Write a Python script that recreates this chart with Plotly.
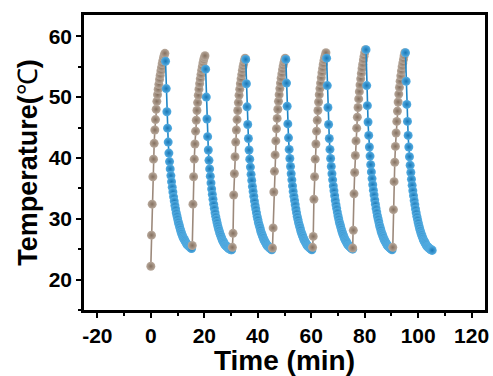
import plotly.graph_objects as go

# ---- data ----
sample_interval_min = 0.25

heat_start = [0.0, 15.5, 30.5, 45.5, 60.5, 75.5, 90.5]
heat_c1 = [22.2, 27.3, 32.4, 36.9, 39.8, 42.4, 44.6, 46.3, 48.0, 49.3, 50.4, 51.3, 52.1, 52.9, 53.6, 54.3, 54.9, 55.5, 56.0, 56.5, 56.9, 57.2]
heat_c2 = [25.6, 32.4, 36.9, 39.8, 42.3, 44.4, 46.2, 47.8, 49.1, 50.3, 51.3, 52.2, 53.0, 53.7, 54.4, 55.0, 55.6, 56.1, 56.5, 56.8]
heat_c3 = [25.3, 27.6, 33.9, 37.4, 40.2, 42.6, 44.6, 46.3, 47.8, 49.1, 50.3, 51.3, 52.2, 53.0, 53.7, 54.4, 55.0, 55.5, 56.0, 56.4]
heat_c4 = [25.2, 28.5, 34.4, 37.8, 40.5, 42.8, 44.8, 46.5, 48.0, 49.3, 50.4, 51.4, 52.3, 53.1, 53.8, 54.5, 55.1, 55.6, 56.0, 56.4]
heat_c5 = [25.3, 27.1, 33.2, 36.9, 39.8, 42.3, 44.4, 46.2, 47.8, 49.2, 50.4, 51.4, 52.3, 53.2, 54.0, 54.7, 55.4, 56.0, 56.5, 56.9, 57.3]
heat_c6 = [25.2, 28.1, 34.1, 37.6, 40.4, 42.8, 44.9, 46.7, 48.3, 49.7, 50.9, 52.0, 53.0, 53.9, 54.7, 55.4, 56.1, 56.7, 57.3, 57.8]
heat_c7 = [25.3, 31.5, 36.1, 39.3, 41.9, 44.1, 46.0, 47.7, 49.2, 50.5, 51.6, 52.6, 53.5, 54.3, 55.0, 55.6, 56.2, 56.8, 57.3]

cool_start = [5.5, 20.5, 35.5, 50.5, 65.75, 80.5, 95.25]
cool_c1 = [55.9, 51.4, 47.6, 44.9, 42.6, 40.8, 39.4, 38.2, 37.1, 36.1, 35.2, 34.4, 33.6, 32.9, 32.2, 31.6, 31.0, 30.5, 30.0, 29.5, 29.1, 28.7, 28.3, 27.9, 27.6, 27.3, 27.0, 26.8, 26.6, 26.4, 26.2, 26.0, 25.8, 25.7, 25.6, 25.5, 25.4, 25.3, 25.2, 25.1]
cool_c2 = [54.6, 50.0, 46.4, 43.5, 41.3, 39.6, 38.2, 37.0, 35.9, 34.9, 34.0, 33.2, 32.4, 31.7, 31.0, 30.4, 29.9, 29.4, 28.9, 28.5, 28.1, 27.7, 27.4, 27.1, 26.8, 26.5, 26.3, 26.1, 25.9, 25.7, 25.6, 25.5, 25.4, 25.3, 25.2, 25.1, 25.0, 25.0, 24.9, 24.9]
cool_c3 = [56.2, 52.2, 48.4, 45.5, 43.2, 41.3, 39.8, 38.5, 37.3, 36.3, 35.3, 34.5, 33.7, 32.9, 32.2, 31.6, 31.0, 30.4, 29.9, 29.4, 29.0, 28.6, 28.2, 27.8, 27.5, 27.2, 26.9, 26.6, 26.4, 26.2, 26.0, 25.8, 25.6, 25.5, 25.4, 25.3, 25.2, 25.1, 25.0, 24.9]
cool_c4 = [56.2, 52.3, 48.5, 45.6, 43.3, 41.4, 39.9, 38.6, 37.4, 36.4, 35.4, 34.5, 33.7, 33.0, 32.3, 31.6, 31.0, 30.4, 29.9, 29.4, 29.0, 28.6, 28.2, 27.8, 27.5, 27.2, 26.9, 26.6, 26.4, 26.2, 26.0, 25.8, 25.6, 25.5, 25.4, 25.3, 25.2, 25.1, 25.0, 24.9]
cool_c5 = [56.4, 51.9, 48.3, 45.5, 43.2, 41.4, 39.9, 38.6, 37.4, 36.4, 35.4, 34.6, 33.8, 33.0, 32.3, 31.7, 31.1, 30.5, 30.0, 29.5, 29.1, 28.7, 28.3, 27.9, 27.6, 27.3, 27.0, 26.7, 26.5, 26.3, 26.1, 25.9, 25.7, 25.6, 25.5, 25.4, 25.3, 25.2, 25.1, 25.0]
cool_c6 = [57.8, 51.9, 48.6, 45.9, 43.7, 41.8, 40.3, 38.9, 37.7, 36.6, 35.6, 34.7, 33.9, 33.1, 32.4, 31.7, 31.1, 30.5, 30.0, 29.5, 29.0, 28.6, 28.2, 27.8, 27.5, 27.2, 26.9, 26.6, 26.4, 26.2, 26.0, 25.8, 25.6, 25.5, 25.4, 25.3, 25.2, 25.1, 25.0, 24.9]
cool_c7 = [57.3, 52.6, 48.8, 46.0, 43.7, 41.8, 40.2, 38.8, 37.6, 36.5, 35.5, 34.6, 33.8, 33.0, 32.3, 31.6, 31.0, 30.4, 29.9, 29.4, 28.9, 28.5, 28.1, 27.7, 27.4, 27.1, 26.8, 26.5, 26.3, 26.1, 25.9, 25.7, 25.5, 25.4, 25.3, 25.2, 25.1, 25.0, 24.9, 24.9, 24.8]

heat_cycles = [heat_c1, heat_c2, heat_c3, heat_c4, heat_c5, heat_c6, heat_c7]
cool_cycles = [cool_c1, cool_c2, cool_c3, cool_c4, cool_c5, cool_c6, cool_c7]

x_ticks = [-20, 0, 20, 40, 60, 80, 100, 120]
y_ticks = [20, 30, 40, 50, 60]

BROWN_LINE = "#9c897b"
BLUE_LINE = "#1f86c6"

fig = go.Figure()

for i in range(len(heat_cycles)):
    h = heat_cycles[i]
    c = cool_cycles[i]
    th = [heat_start[i] + k * sample_interval_min for k in range(len(h))]
    tc = [cool_start[i] + k * sample_interval_min for k in range(len(c))]
    fig.add_trace(go.Scatter(
        x=th, y=h, mode="lines+markers", showlegend=False, hoverinfo="skip",
        line=dict(color=BROWN_LINE, width=1.6),
        marker=dict(size=9, color="#b8a99c",
                    gradient=dict(type="radial", color="#85705f"),
                    line=dict(width=0)),
    ))
    fig.add_trace(go.Scatter(
        x=tc, y=c, mode="lines+markers", showlegend=False, hoverinfo="skip",
        line=dict(color=BLUE_LINE, width=1.6),
        marker=dict(size=9, color="#55aee3",
                    gradient=dict(type="radial", color="#1876b5"),
                    line=dict(width=0)),
    ))

FONT = "Liberation Sans, Arial, sans-serif"

fig.update_layout(
    width=493, height=376,
    margin=dict(l=84, r=8, t=15, b=66),
    paper_bgcolor="white", plot_bgcolor="white",
    xaxis=dict(
        range=[-25, 125], tickmode="array", tickvals=x_ticks,
        ticktext=[str(v) for v in x_ticks], automargin=False,
        showgrid=False, zeroline=False,
        showline=True, linecolor="black", linewidth=2.5, mirror=True,
        ticks="outside", ticklen=5, tickwidth=2, tickcolor="black",
        minor=dict(dtick=10, tick0=0, ticks="outside", ticklen=3, tickwidth=1.5, tickcolor="black"),
        tickfont=dict(family=FONT, size=21, color="black", weight="bold"),
        title=dict(text="<b>Time (min)</b>", standoff=0,
                   font=dict(family=FONT, size=28, color="black")),
    ),
    yaxis=dict(
        range=[15, 63.5], tickmode="array", tickvals=y_ticks,
        ticktext=[str(v) for v in y_ticks], automargin=False,
        showgrid=False, zeroline=False,
        showline=True, linecolor="black", linewidth=2.5, mirror=True,
        ticks="outside", ticklen=5, tickwidth=2, tickcolor="black",
        minor=dict(dtick=5, tick0=0, ticks="outside", ticklen=3, tickwidth=1.5, tickcolor="black"),
        tickfont=dict(family=FONT, size=21, color="black", weight="bold"),
        title=dict(text="<b>Temperature(</b>℃<b>)</b>", standoff=4,
                   font=dict(family=FONT, size=27, color="black")),
    ),
)

fig.write_html(
    "out.html",
    config={"displayModeBar": False},
    post_script="document.body.style.margin='0';document.body.style.overflow='hidden';",
)
